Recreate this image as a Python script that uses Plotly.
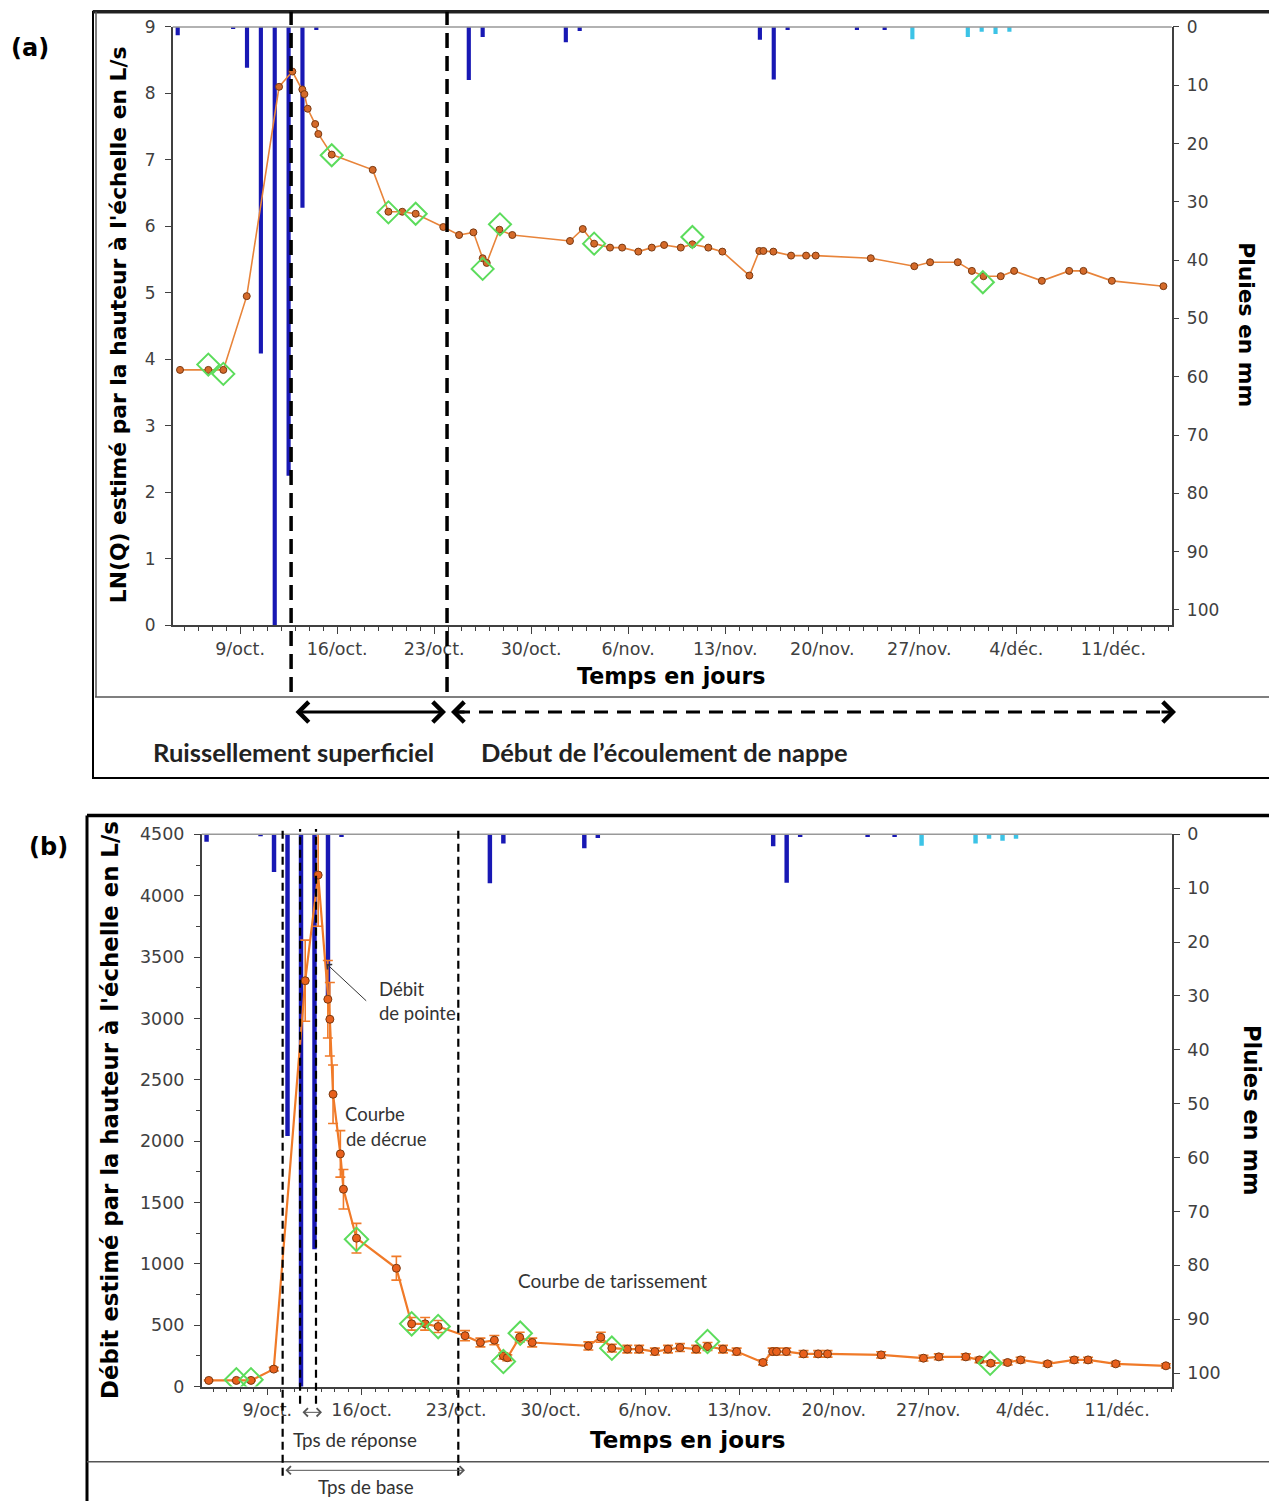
import plotly.graph_objects as go

W, H = 1269, 1501
# the photographed page is compressed vertically (y_shot = 0.987*y + 9.7); map reference rows back
SY, TY = 0.987, 9.7
def px(x): return x / W
def py(y): return 1 - ((y - TY) / SY) / H

DAY = 86400000

# ---------------- DATA ----------------
flow_dates = ["2013-10-04 16:00", "2013-10-06 17:00", "2013-10-07 19:00", "2013-10-09 11:30",
              "2013-10-11 19:30", "2013-10-12 18:30", "2013-10-13 11:45", "2013-10-13 15:20", "2013-10-13 21:00",
              "2013-10-14 10:00", "2013-10-14 15:30", "2013-10-15 14:40", "2013-10-18 13:40", "2013-10-19 16:50",
              "2013-10-20 16:50", "2013-10-21 16:00", "2013-10-23 15:50", "2013-10-24 19:10", "2013-10-25 20:00",
              "2013-10-26 12:00", "2013-10-26 19:00", "2013-10-27 17:00", "2013-10-28 15:20",
              "2013-11-01 19:10", "2013-11-02 17:20", "2013-11-03 13:00", "2013-11-04 16:30", "2013-11-05 13:30",
              "2013-11-06 17:30", "2013-11-07 16:50", "2013-11-08 14:10", "2013-11-09 19:00", "2013-11-10 15:10",
              "2013-11-11 18:40", "2013-11-12 19:00", "2013-11-14 17:50", "2013-11-15 11:00", "2013-11-15 18:00",
              "2013-11-16 11:20", "2013-11-17 18:00", "2013-11-18 20:00", "2013-11-19 12:40",
              "2013-11-23 12:00", "2013-11-26 15:20", "2013-11-27 18:40", "2013-11-29 18:40", "2013-11-30 19:00",
              "2013-12-01 15:10", "2013-12-02 21:00", "2013-12-03 20:10", "2013-12-05 20:10", "2013-12-07 19:30",
              "2013-12-08 20:10", "2013-12-10 21:20", "2013-12-14 14:40"]

ln_q = [3.84, 3.84, 3.84, 4.95, 8.10, 8.33, 8.06, 7.99, 7.77, 7.54, 7.39, 7.08, 6.85, 6.22, 6.22, 6.19,
        5.99, 5.87, 5.91, 5.52, 5.45, 5.95, 5.87, 5.78, 5.96, 5.74, 5.68, 5.68, 5.62, 5.68, 5.72, 5.68,
        5.73, 5.68, 5.62, 5.26, 5.63, 5.63, 5.62, 5.56, 5.56, 5.56, 5.52, 5.40, 5.46, 5.46, 5.33, 5.25,
        5.25, 5.33, 5.18, 5.33, 5.33, 5.18, 5.10]

q_ls = [50, 50, 50, 142, 3307, 4168, 3156, 2993, 2382, 1896, 1608, 1209, 964, 511, 511, 489,
        414, 359, 378, 250, 235, 402, 359, 331, 402, 313, 305, 305, 285, 305, 318, 305,
        326, 305, 285, 196, 285, 285, 285, 266, 266, 266, 258, 231, 242, 242, 217, 190,
        196, 217, 185, 217, 217, 185, 169]

check_dates = ["2013-10-06 17:00", "2013-10-07 19:00", "2013-10-15 14:40", "2013-10-19 16:50",
               "2013-10-21 16:00", "2013-10-26 12:00", "2013-10-27 18:00", "2013-11-03 13:00",
               "2013-11-10 15:10", "2013-12-01 14:00"]
check_ln_q = [3.92, 3.78, 7.07, 6.21, 6.19, 5.36, 6.03, 5.74, 5.84, 5.16]
check_q = [55, 55, 1200, 511, 489, 204, 435, 313, 367, 190]

rain_dates = ["2013-10-04", "2013-10-08", "2013-10-09", "2013-10-10", "2013-10-11", "2013-10-12",
              "2013-10-13", "2013-10-14", "2013-10-25", "2013-10-26", "2013-11-01", "2013-11-02",
              "2013-11-15", "2013-11-16", "2013-11-17", "2013-11-22", "2013-11-24"]
rain_mm = [1.4, 0.3, 7, 56, 104, 77, 31, 0.5, 9.1, 1.7, 2.6, 0.7, 2.2, 9, 0.5, 0.5, 0.5]

rain2_dates = ["2013-11-26", "2013-11-30", "2013-12-01", "2013-12-02", "2013-12-03"]
rain2_mm = [2.1, 1.7, 0.8, 1.2, 0.8]

x_tick_dates = ["2013-10-09", "2013-10-16", "2013-10-23", "2013-10-30", "2013-11-06",
                "2013-11-13", "2013-11-20", "2013-11-27", "2013-12-04", "2013-12-11"]
x_tick_labels = ["9/oct.", "16/oct.", "23/oct.", "30/oct.", "6/nov.", "13/nov.", "20/nov.",
                 "27/nov.", "4/déc.", "11/déc."]

# event dates (vertical dashed lines)
events_a = ["2013-10-12 16:20", "2013-10-23 22:20"]
events_b_long = ["2013-10-10 03:20", "2013-10-23 03:50"]
events_b_short = ["2013-10-11 10:20", "2013-10-12 14:40"]

x_range_a = ["2013-10-04 03:20", "2013-12-15 05:00"]
x_range_b = ["2013-10-04 03:20", "2013-12-15 01:30"]

# ---------------- STYLE ----------------
AX = '#404040'
TICKF = 'DejaVu Sans'
BLUE = '#1818B4'
CYAN = '#3CC3E6'
ORANGE_LINE = '#E8843A'
ORANGE_PT = '#D46A2A'
GREEN = '#5CDC5C'

fig = go.Figure()

# Panel a
fig.add_trace(go.Bar(x=rain_dates, y=rain_mm, xaxis='x', yaxis='y', width=0.3 * DAY,
                     xperiod=DAY, xperiodalignment='middle',
                     marker=dict(color=BLUE, line_width=0)))
fig.add_trace(go.Bar(x=rain2_dates, y=rain2_mm, xaxis='x', yaxis='y', width=0.3 * DAY,
                     xperiod=DAY, xperiodalignment='middle',
                     marker=dict(color=CYAN, line_width=0)))
fig.add_trace(go.Scatter(x=flow_dates, y=ln_q, xaxis='x', yaxis='y2', mode='lines+markers',
                         line=dict(color=ORANGE_LINE, width=1.6),
                         marker=dict(size=7, color=ORANGE_PT, line=dict(color='#7A3A12', width=1))))
fig.add_trace(go.Scatter(x=check_dates, y=check_ln_q, xaxis='x', yaxis='y2', mode='markers',
                         marker=dict(symbol='diamond-open', size=17, color=GREEN,
                                     line=dict(color=GREEN, width=2))))

# Panel b
fig.add_trace(go.Bar(x=rain_dates, y=rain_mm, xaxis='x2', yaxis='y3', width=0.33 * DAY,
                     xperiod=DAY, xperiodalignment='middle',
                     marker=dict(color=BLUE, line_width=0)))
fig.add_trace(go.Bar(x=rain2_dates, y=rain2_mm, xaxis='x2', yaxis='y3', width=0.33 * DAY,
                     xperiod=DAY, xperiodalignment='middle',
                     marker=dict(color=CYAN, line_width=0)))
fig.add_trace(go.Scatter(x=flow_dates, y=q_ls, xaxis='x2', yaxis='y4', mode='lines+markers',
                         line=dict(color='#F07A28', width=2.2),
                         error_y=dict(type='percent', value=10, color='#F07A28', thickness=1.6, width=5),
                         marker=dict(size=8, color='#E8601C', line=dict(color='#7A3A12', width=1))))
fig.add_trace(go.Scatter(x=check_dates, y=check_q, xaxis='x2', yaxis='y4', mode='markers',
                         marker=dict(symbol='diamond-open', size=18, color=GREEN,
                                     line=dict(color=GREEN, width=2))))

def xax(domain, anchor, rng, fs):
    return dict(domain=domain, anchor=anchor, type='date', range=rng,
                tickmode='array', tickvals=x_tick_dates, ticktext=x_tick_labels,
                ticks='outside', ticklen=7, tickwidth=1.3, tickcolor=AX,
                minor=dict(tickmode='linear', tick0='2013-10-04', dtick=DAY, ticks='outside',
                           ticklen=4, tickwidth=1, tickcolor=AX),
                showline=True, linecolor=AX, linewidth=1.5, showgrid=False, zeroline=False,
                tickfont=dict(family=TICKF, size=fs, color=AX), fixedrange=True)

def yax(**kw):
    d = dict(ticks='outside', ticklen=6, tickwidth=1.3, tickcolor=AX, showline=True,
             linecolor=AX, linewidth=1.5, showgrid=False, zeroline=False, fixedrange=True)
    d.update(kw)
    return d

fig.update_layout(
    width=W, height=H, margin=dict(l=0, r=0, t=0, b=0),
    paper_bgcolor='white', plot_bgcolor='white', showlegend=False, barmode='overlay',
    xaxis=xax([px(172.7), px(1171.7)], 'y', x_range_a, 17.5),
    yaxis=yax(domain=[py(625), py(26.7)], anchor='x', side='right', range=[102.6, 0],
              tickvals=list(range(0, 101, 10)), ticklabelstandoff=4,
              tickfont=dict(family=TICKF, size=17, color=AX)),
    yaxis2=yax(overlaying='y', anchor='x', side='left', range=[0, 9], dtick=1,
               ticklabelstandoff=6, tickfont=dict(family=TICKF, size=17, color=AX)),
    xaxis2=xax([px(201.7), px(1172)], 'y3', x_range_b, 17.5),
    yaxis3=yax(domain=[py(1386.7), py(834.3)], anchor='x2', side='right', range=[102.5, 0],
               tickvals=list(range(0, 101, 10)), ticklabelstandoff=4,
               tickfont=dict(family=TICKF, size=17.5, color=AX)),
    yaxis4=yax(overlaying='y3', anchor='x2', side='left', range=[0, 4500], dtick=500,
               minor=dict(dtick=250, ticks='outside', ticklen=4, tickcolor=AX),
               ticklabelstandoff=6, tickfont=dict(family=TICKF, size=17.5, color=AX)),
)

shapes = []
TOP = 11.5
# frames panel a
shapes.append(dict(type='rect', xref='paper', yref='paper', x0=px(93), x1=1.02, y0=py(778), y1=py(TOP),
                   line=dict(color='black', width=2)))
shapes.append(dict(type='line', xref='paper', yref='paper', x0=px(93), x1=1.02, y0=py(TOP), y1=py(TOP),
                   line=dict(color='#222', width=3.5)))
shapes.append(dict(type='line', xref='paper', yref='paper', x0=px(95), x1=1.02, y0=py(697), y1=py(697),
                   line=dict(color='#555', width=1.5)))
shapes.append(dict(type='line', xref='paper', yref='paper', x0=px(96), x1=px(96), y0=py(697), y1=py(TOP),
                   line=dict(color='#555', width=1.5)))
shapes.append(dict(type='line', xref='paper', yref='paper', x0=px(172.7), x1=px(1171.7), y0=py(26.7), y1=py(26.7),
                   line=dict(color='#999', width=1.5)))
# frames panel b
shapes.append(dict(type='line', xref='paper', yref='paper', x0=px(87), x1=1.02, y0=py(815.5), y1=py(815.5),
                   line=dict(color='black', width=3.5)))
shapes.append(dict(type='line', xref='paper', yref='paper', x0=px(87), x1=px(87), y0=-0.02, y1=py(815.5),
                   line=dict(color='black', width=3)))
shapes.append(dict(type='line', xref='paper', yref='paper', x0=px(87), x1=1.02, y0=py(1462), y1=py(1462),
                   line=dict(color='#555', width=1.5)))
shapes.append(dict(type='line', xref='paper', yref='paper', x0=px(201.7), x1=px(1172), y0=py(834.3), y1=py(834.3),
                   line=dict(color='#999', width=1.5)))

# dashed event lines panel a
for d in events_a:
    shapes.append(dict(type='line', xref='x', yref='paper', x0=d, x1=d, y0=py(692), y1=py(TOP),
                       line=dict(color='black', width=3.5, dash='15px,8px')))
# dashed event lines panel b
for d in events_b_long:
    shapes.append(dict(type='line', xref='x2', yref='paper', x0=d, x1=d, y0=py(1476), y1=py(829),
                       line=dict(color='black', width=2.2, dash='8px,5px')))
for d in events_b_short:
    shapes.append(dict(type='line', xref='x2', yref='paper', x0=d, x1=d, y0=py(1404), y1=py(829),
                       line=dict(color='black', width=2.2, dash='8px,5px')))

# dashed arrow shaft panel a
shapes.append(dict(type='line', xref='paper', yref='paper', x0=px(456), x1=px(1170), y0=py(712), y1=py(712),
                   line=dict(color='black', width=3, dash='14px,9px')))

fig.update_layout(shapes=shapes)

ann = []
def txt(x, y, s, size, family='Lato', color='black', bold=False, angle=0, xanchor='center'):
    f = dict(family=family, size=size, color=color)
    if bold:
        f['weight'] = 'bold'
    ann.append(dict(x=px(x), y=py(y), xref='paper', yref='paper', text=s, showarrow=False,
                    font=f, textangle=angle, xanchor=xanchor, yanchor='middle'))

def arrow(x0, y0, x1, y1, width, color, head=4, size=1.0, both=True):
    # head at (x1, y1), tail at (x0, y0), offsets in pixels
    ann.append(dict(x=px(x1), y=py(y1), ax=x0 - x1, ay=(y0 - y1) / SY, xref='paper', yref='paper',
                    axref='pixel', ayref='pixel', text='', showarrow=True, arrowhead=head,
                    startarrowhead=head, arrowsize=size, startarrowsize=size, arrowwidth=width,
                    arrowcolor=color, arrowside='end+start' if both else 'end',
                    standoff=0, startstandoff=0))

txt(30, 48, '(a)', 24, family='DejaVu Sans', bold=True)
txt(48, 847, '(b)', 24, family='DejaVu Sans', bold=True)

# axis titles panel a
txt(118, 325, "LN(Q) estimé par la hauteur à l'échelle en L/s", 21.8, family='DejaVu Sans', bold=True, angle=-90)
txt(1247, 324, 'Pluies en mm', 21.8, family='DejaVu Sans', bold=True, angle=90)
txt(671, 676, 'Temps en jours', 22.2, family='DejaVu Sans', bold=True)
# axis titles panel b
txt(110, 1110, "Débit estimé par la hauteur à l'échelle en L/s", 22.8, family='DejaVu Sans', bold=True, angle=-90)
txt(1252, 1110, 'Pluies en mm', 22.5, family='DejaVu Sans', bold=True, angle=90)
txt(687, 1440, 'Temps en jours', 23, family='DejaVu Sans', bold=True)

# panel a bottom
arrow(294, 712, 446, 712, 3, 'black', head=4, size=1.3)
arrow(466, 712, 451, 712, 3, 'black', head=4, size=1.3, both=False)
arrow(1160, 712, 1176, 712, 3, 'black', head=4, size=1.3, both=False)
txt(293, 752, 'Ruissellement superficiel', 25.5, color='#222', bold=True)
txt(664, 752, 'Début de l’écoulement de nappe', 25.5, color='#222', bold=True)

# panel b annotations
txt(377, 989, 'Débit', 18.5, color='#333', xanchor='left')
txt(377, 1013, 'de pointe', 18.5, color='#333', xanchor='left')
arrow(367.7, 1001.7, 326.7, 964, 1, '#333', head=4, size=1.3, both=False)
txt(343, 1114, 'Courbe', 18.5, color='#333', xanchor='left')
txt(344, 1139, 'de décrue', 18.5, color='#333', xanchor='left')
txt(612, 1281, 'Courbe de tarissement', 19, color='#333')
arrow(301, 1412.5, 322, 1412.5, 1, '#555', head=4, size=1.6)
txt(355, 1440, 'Tps de réponse', 18.8, color='#333')
arrow(284, 1470.5, 465, 1470.5, 1, '#555', head=4, size=1.6)
txt(366, 1487, 'Tps de base', 18.8, color='#333')

fig.update_layout(annotations=ann)

post = ("document.documentElement.style.margin='0';document.documentElement.style.padding='0';"
        "document.body.style.margin='0';document.body.style.padding='0';"
        "document.documentElement.style.overflow='hidden';document.body.style.overflow='hidden';"
        "document.documentElement.style.height='1501px';document.body.style.height='1501px';"
        "var gd=document.getElementById('{plot_id}');"
        "gd.style.position='absolute';gd.style.top='0px';gd.style.left='0px';")

fig.write_html('out.html', config={'displayModeBar': False}, post_script=post)
